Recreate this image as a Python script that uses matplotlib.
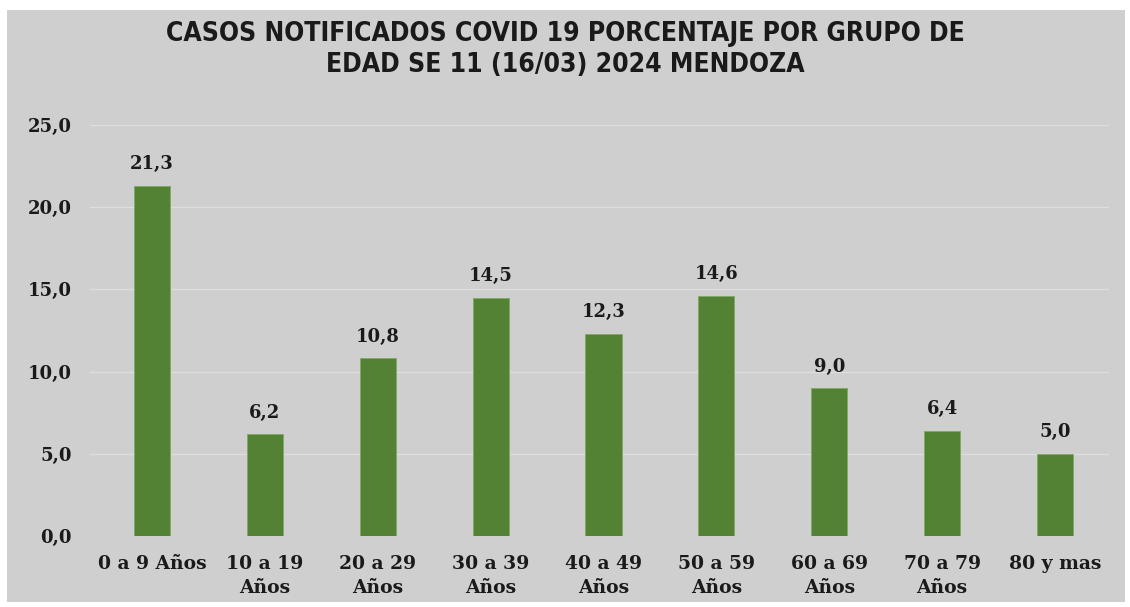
import matplotlib
matplotlib.use("Agg")
import matplotlib.pyplot as plt
from matplotlib.patches import Rectangle

grupos = ["0 a 9 Años", "10 a 19\nAños", "20 a 29\nAños", "30 a 39\nAños", "40 a 49\nAños",
          "50 a 59\nAños", "60 a 69\nAños", "70 a 79\nAños", "80 y mas"]
porcentaje = [21.3, 6.2, 10.8, 14.5, 12.3, 14.6, 9.0, 6.4, 5.0]
y_ticks = [0, 5, 10, 15, 20, 25]

BG = "#d0cfd0"
GREEN = "#548235"
TXT = "#1a1a1a"
serif = ["DejaVu Serif"]

fig = plt.figure(figsize=[11.3, 6.07], dpi=100)
fig.patch.set_facecolor("white")
fig.patches.append(Rectangle((7 / 1130, 5 / 607), 1118 / 1130, 592 / 607,
                             transform=fig.transFigure, facecolor=BG, edgecolor="none", zorder=0))

ax = fig.add_axes([90 / 1130, 71 / 607, 1019 / 1130, 411 / 607])
ax.set_zorder(2)
ax.patch.set_alpha(0)

x = list(range(len(grupos)))
bars = ax.bar(x, porcentaje, width=0.32, color=GREEN, edgecolor="#7ea860", linewidth=0.6, zorder=3)

for xi, v in zip(x, porcentaje):
    ax.annotate(f"{v:.1f}".replace(".", ","), (xi, v), xytext=(0, 9), textcoords="offset points",
                ha="center", va="bottom", fontsize=13, fontweight="bold", family=serif, color=TXT)

ax.set_ylim(0, 25)
ax.set_xlim(-0.549, 8.478)
ax.set_yticks(y_ticks)
ax.set_yticklabels([f"{t:.1f}".replace(".", ",") for t in y_ticks], fontsize=13,
                   fontweight="bold", family=serif, color=TXT)
ax.set_xticks(x)
ax.set_xticklabels(grupos, fontsize=13.5, fontweight="bold", family=serif, color=TXT, linespacing=1.42)
ax.tick_params(axis="both", length=0)
ax.tick_params(axis="x", pad=14)
ax.tick_params(axis="y", pad=13)
ax.yaxis.grid(True, color="#dedede", linewidth=1.0, zorder=0)
ax.set_axisbelow(True)
for s in ax.spines.values():
    s.set_visible(False)

title_font = dict(ha="center", va="center", fontsize=19, fontweight="bold",
                  family=["DejaVu Sans"], fontstretch="condensed", color=TXT)
fig.text(0.5, 1 - 34 / 607, "CASOS NOTIFICADOS COVID 19 PORCENTAJE POR GRUPO DE", **title_font)
fig.text(0.5, 1 - 65 / 607, "EDAD SE 11 (16/03) 2024 MENDOZA", **title_font)

fig.savefig("out.png", dpi=100, facecolor=fig.get_facecolor())
